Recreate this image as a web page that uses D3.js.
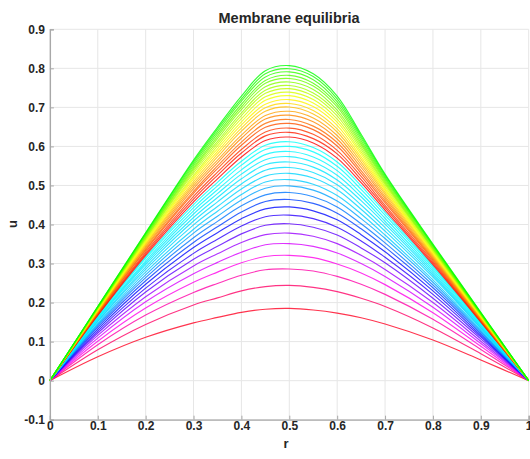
<!DOCTYPE html>
<html>
<head>
<meta charset="utf-8">
<script src="https://cdn.jsdelivr.net/npm/d3@7"></script>
<style>
  html, body { margin: 0; padding: 0; background: #fff; }
  svg { display: block; }
  text { font-family: "Liberation Sans", Arial, Helvetica, sans-serif; fill: #262626; }
</style>
</head>
<body>
<svg id="chart" width="530" height="459"></svg>
<script>
// Radial positions where every equilibrium profile is sampled
const rSamples = [0, 0.1, 0.2, 0.3, 0.35, 0.4, 0.45, 0.5, 0.55, 0.6, 0.65, 0.7, 0.8, 0.9, 1];

// Deflection u(r) of each equilibrium, from the shallowest to the tallest
const u01 = [0, .061, .111, .148, .162, .175, .183, .185, .181, .173, .161, .145, .104, .053, 0];
const u02 = [0, .079, .144, .194, .212, .230, .241, .244, .239, .228, .211, .190, .135, .069, 0];
const u03 = [0, .092, .168, .226, .249, .270, .284, .286, .281, .267, .247, .221, .157, .080, 0];
const u04 = [0, .101, .186, .252, .278, .302, .318, .321, .315, .299, .276, .246, .174, .088, 0];
const u05 = [0, .109, .202, .274, .303, .329, .348, .351, .344, .327, .300, .267, .188, .095, 0];
const u06 = [0, .116, .215, .294, .325, .354, .374, .378, .370, .351, .321, .285, .200, .101, 0];
const u07 = [0, .122, .227, .311, .344, .376, .398, .402, .393, .373, .340, .302, .211, .107, 0];
const u08 = [0, .127, .237, .326, .362, .396, .420, .424, .415, .393, .358, .316, .221, .112, 0];
const u09 = [0, .132, .247, .341, .379, .415, .440, .445, .435, .412, .374, .330, .230, .116, 0];
const u10 = [0, .137, .256, .354, .394, .432, .459, .464, .454, .429, .389, .342, .238, .120, 0];
const u11 = [0, .141, .264, .366, .408, .448, .476, .482, .471, .445, .402, .353, .245, .124, 0];
const u12 = [0, .144, .271, .378, .421, .463, .493, .499, .488, .460, .415, .364, .252, .127, 0];
const u13 = [0, .147, .278, .388, .434, .477, .509, .515, .503, .474, .427, .373, .258, .130, 0];
const u14 = [0, .151, .285, .399, .446, .491, .524, .531, .519, .489, .439, .383, .265, .134, 0];
const u15 = [0, .153, .291, .409, .458, .504, .539, .546, .533, .502, .450, .392, .270, .136, 0];
const u16 = [0, .156, .297, .418, .469, .517, .553, .560, .547, .514, .461, .401, .275, .139, 0];
const u17 = [0, .159, .302, .427, .479, .529, .566, .574, .560, .526, .471, .408, .280, .141, 0];
const u18 = [0, .161, .307, .435, .489, .540, .579, .587, .573, .538, .480, .416, .285, .144, 0];
const u19 = [0, .163, .313, .443, .499, .552, .592, .600, .586, .549, .490, .424, .290, .146, 0];
const u20 = [0, .166, .317, .451, .508, .562, .603, .612, .597, .560, .499, .431, .294, .148, 0];
const u21 = [0, .167, .321, .458, .517, .573, .615, .624, .609, .570, .507, .437, .297, .150, 0];
const u22 = [0, .169, .325, .465, .526, .583, .627, .636, .620, .581, .515, .443, .301, .152, 0];
const u23 = [0, .171, .329, .472, .534, .592, .637, .647, .631, .590, .523, .449, .305, .153, 0];
const u24 = [0, .173, .334, .480, .543, .603, .649, .659, .643, .601, .531, .456, .309, .155, 0];
const u25 = [0, .174, .337, .485, .550, .611, .659, .669, .652, .610, .538, .461, .312, .157, 0];
const u26 = [0, .176, .341, .492, .558, .621, .670, .680, .663, .619, .546, .467, .315, .158, 0];
const u27 = [0, .177, .344, .498, .565, .629, .679, .690, .673, .628, .553, .472, .318, .160, 0];
const u28 = [0, .178, .348, .504, .573, .639, .690, .701, .683, .637, .560, .478, .321, .161, 0];
const u29 = [0, .180, .351, .510, .580, .647, .699, .710, .692, .645, .567, .483, .324, .163, 0];
const u30 = [0, .181, .354, .516, .587, .655, .708, .720, .702, .654, .573, .488, .327, .164, 0];
const u31 = [0, .182, .357, .521, .594, .663, .718, .730, .711, .662, .580, .492, .330, .165, 0];
const u32 = [0, .183, .360, .526, .601, .671, .727, .739, .720, .670, .586, .497, .332, .167, 0];
const u33 = [0, .185, .363, .532, .607, .679, .736, .748, .729, .678, .592, .502, .335, .168, 0];
const u34 = [0, .185, .365, .537, .613, .686, .744, .756, .737, .686, .598, .506, .337, .169, 0];
const u35 = [0, .186, .368, .542, .620, .694, .753, .765, .746, .693, .604, .510, .339, .170, 0];
const u36 = [0, .187, .370, .546, .626, .701, .762, .774, .755, .701, .609, .514, .341, .171, 0];
const u37 = [0, .188, .373, .551, .632, .708, .769, .782, .762, .708, .615, .518, .344, .172, 0];
const u38 = [0, .189, .375, .556, .638, .716, .778, .791, .771, .715, .621, .522, .346, .173, 0];
const u39 = [0, .190, .378, .561, .644, .722, .786, .799, .779, .722, .626, .526, .348, .174, 0];
const u40 = [0, .190, .379, .565, .649, .729, .794, .807, .786, .729, .631, .529, .350, .175, 0];

const profiles = [u01, u02, u03, u04, u05, u06, u07, u08, u09, u10,
                  u11, u12, u13, u14, u15, u16, u17, u18, u19, u20,
                  u21, u22, u23, u24, u25, u26, u27, u28, u29, u30,
                  u31, u32, u33, u34, u35, u36, u37, u38, u39, u40];

// Axis ticks
const rTicks = [0, 0.1, 0.2, 0.3, 0.4, 0.5, 0.6, 0.7, 0.8, 0.9, 1];
const uTicks = [-0.1, 0, 0.1, 0.2, 0.3, 0.4, 0.5, 0.6, 0.7, 0.8, 0.9];

const titleText = "Membrane equilibria";
const xLabelText = "r";
const yLabelText = "u";

const svg = d3.select("#chart");
const plotLeft = 49.9, plotRight = 528.7, plotTop = 29.3, plotBottom = 419.7;

const x = d3.scaleLinear().domain([0, 1]).range([plotLeft, plotRight]);
const y = d3.scaleLinear().domain([-0.1, 0.9]).range([plotBottom, plotTop]);

// Grid
const grid = svg.append("g").attr("stroke", "#e6e6e6").attr("stroke-width", 1);
grid.selectAll("line.gx").data(rTicks).join("line").attr("class", "gx")
  .attr("x1", d => x(d)).attr("x2", d => x(d))
  .attr("y1", plotTop).attr("y2", plotBottom);
grid.selectAll("line.gy").data(uTicks).join("line").attr("class", "gy")
  .attr("x1", plotLeft).attr("x2", plotRight)
  .attr("y1", d => y(d)).attr("y2", d => y(d));

// Hue of each curve: the lower family runs red→magenta→blue→cyan,
// the upper family runs red→orange→yellow→green
const lowerHue = d3.scaleLinear()
  .domain([0, 3, 6, 8, 10, 12, 19])
  .range([352, 305, 262, 238, 212, 192, 178]);
const upperHue = d3.scaleLinear().domain([20, 39]).range([0, 120]);

function curveColour(i) {
  const h = i < 20 ? lowerHue(i) : upperHue(i);
  return d3.hsl(h, 1, 0.5).formatHex();
}

const line = d3.line()
  .x((d, j) => x(rSamples[j]))
  .y(d => y(d))
  .curve(d3.curveCatmullRom.alpha(0.5));

svg.append("g")
  .attr("fill", "none")
  .attr("stroke-width", 1.15)
  .attr("stroke-linejoin", "round")
  .selectAll("path")
  .data(profiles)
  .join("path")
  .attr("stroke", (d, i) => curveColour(i))
  .attr("stroke-opacity", 0.8)
  .attr("d", line);

// Axes (ticks point inward)
const fmt = d => String(+d.toFixed(1));
const xAxis = d3.axisBottom(x).tickValues(rTicks).tickSize(-4).tickFormat(fmt);
const yAxis = d3.axisLeft(y).tickValues(uTicks).tickSize(-4).tickFormat(fmt);

const gx = svg.append("g").attr("transform", `translate(0,${plotBottom})`).call(xAxis);
const gy = svg.append("g").attr("transform", `translate(${plotLeft},0)`).call(yAxis);
[gx, gy].forEach(g => {
  g.select(".domain").attr("stroke", "#a8a8a8").attr("stroke-width", 1.3);
  g.selectAll(".tick line").attr("stroke", "#a8a8a8");
  g.selectAll(".tick text")
    .attr("font-family", "Liberation Sans, Arial, sans-serif")
    .attr("font-size", 12).attr("font-weight", "bold").attr("fill", "#333");
});
gx.selectAll(".tick text").attr("dy", 0).attr("y", 10.5);
gy.selectAll(".tick text").attr("x", -5);

// Title and labels
svg.append("text").attr("x", 289).attr("y", 23).attr("text-anchor", "middle")
  .attr("font-size", 14.5).attr("font-weight", "bold").attr("fill", "#111").text(titleText);
svg.append("text").attr("x", 286).attr("y", 448).attr("text-anchor", "middle")
  .attr("font-size", 13).attr("font-weight", "bold").attr("fill", "#333").text(xLabelText);
svg.append("text").attr("transform", "translate(17,224) rotate(-90)").attr("text-anchor", "middle")
  .attr("font-size", 13).attr("font-weight", "bold").attr("fill", "#333").text(yLabelText);
</script>
</body>
</html>
